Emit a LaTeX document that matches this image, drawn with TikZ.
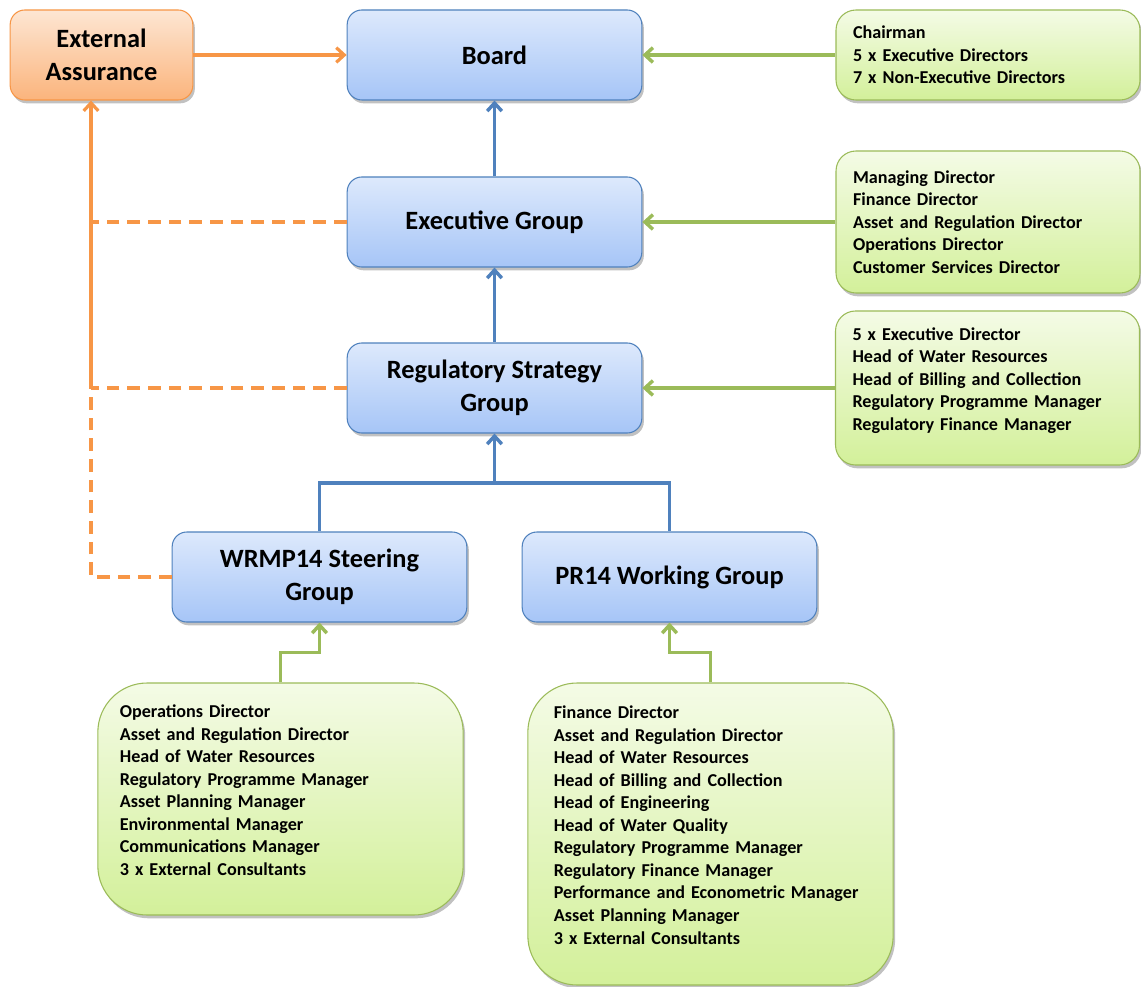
\documentclass[tikz,border=0pt]{standalone}
\usepackage{fontspec}
\setmainfont{Carlito}
\usepackage{tikz}
\usetikzlibrary{arrows.meta,shadows,calc}
\definecolor{boxblue}{HTML}{4F81BD}
\definecolor{bluetop}{HTML}{DDE9FC}
\definecolor{bluebot}{HTML}{A6C5F7}
\definecolor{boxgreen}{HTML}{9BBB59}
\definecolor{greentop}{HTML}{F4FBE6}
\definecolor{greenbot}{HTML}{D3F09A}
\definecolor{boxorange}{HTML}{F79646}
\definecolor{orangetop}{HTML}{FDE6D3}
\definecolor{orangebot}{HTML}{FBB47C}
\newcommand{\tailgap}{\rule[-13.5pt]{0pt}{13.5pt}} % lifts a list a little in its box
\tikzset{>={Straight Barb[length=6pt,width=11pt]}}
\tikzstyle{boxshadow}=[drop shadow={shadow xshift=1.5pt,shadow yshift=-2.5pt,opacity=0.35,fill=black!70}]
\tikzstyle{groupbox}=[draw=boxblue,thick,rounded corners=11pt,top color=bluetop,bottom color=bluebot,boxshadow,
	minimum width=221pt,minimum height=67.5pt,align=center,font=\fontsize{19.8}{24.75}\selectfont\bfseries]
\tikzstyle{assurebox}=[groupbox,draw=boxorange,top color=orangetop,bottom color=orangebot,minimum width=137pt]
\tikzstyle{teambox}=[draw=boxgreen,thick,rounded corners=15pt,top color=greentop,bottom color=greenbot,boxshadow,
	align=left,inner xsep=12.75pt,text width=202.5pt,font=\fontsize{13.6}{16.9}\selectfont\bfseries]
\tikzstyle{bigteam}=[teambox,rounded corners=37pt,inner xsep=18pt,text width=238pt]
\tikzstyle{blueline}=[boxblue,line width=2.6pt]
\tikzstyle{greenline}=[boxgreen,line width=2.6pt]
\tikzstyle{orangeline}=[boxorange,line width=2.4pt]
\tikzstyle{orangedash}=[orangeline,dash pattern=on 9.5pt off 6pt]

\begin{document}
\begin{tikzpicture}[x=0.75pt,y=-0.75pt]
	\useasboundingbox (0,0) rectangle (1141,987);
	
	% groups
	\node[groupbox] (board) at (494.5,55) {Board};
	\node[groupbox] (exec) at (494.5,222) {Executive Group};
	\node[groupbox] (rsg) at (494.5,388) {Regulatory Strategy\\Group};
	\node[groupbox] (wrmp) at (319.5,577) {WRMP14 Steering\\Group};
	\node[groupbox] (pr14) at (669.5,577) {PR14 Working Group};
	\node[assurebox] (ext) at (101.5,55) {External\\Assurance};
	
	% members
	\node[teambox,minimum height=67.5pt] (boardteam) at (988,55) {Chairman\\
		5 x Executive Directors\\
		7 x Non-Executive Directors};
	\node[teambox,minimum height=106.5pt] (execteam) at (988,222) {Managing Director\\
		Finance Director\\
		Asset and Regulation Director\\
		Operations Director\\
		Customer Services Director};
	\node[teambox,minimum height=115.5pt] (rsgteam) at (987.5,388) {5 x Executive Director\\
		Head of Water Resources\\
		Head of Billing and Collection\\
		Regulatory Programme Manager\\
		Regulatory Finance Manager\tailgap};
	\node[bigteam,minimum height=174pt,inner xsep=16.5pt,text width=241pt] (wrmpteam) at (280.5,799) {Operations Director\\
		Asset and Regulation Director\\
		Head of Water Resources\\
		Regulatory Programme Manager\\
		Asset Planning Manager\\
		Environmental Manager\\
		Communications Manager\\
		3 x External Consultants\tailgap};
	\node[bigteam,minimum height=226.5pt,inner xsep=19.5pt,text width=235pt] (pr14team) at (710.5,834) {Finance Director\\
		Asset and Regulation Director\\
		Head of Water Resources\\
		Head of Billing and Collection\\
		Head of Engineering\\
		Head of Water Quality\\
		Regulatory Programme Manager\\
		Regulatory Finance Manager\\
		Performance and Econometric Manager\\
		Asset Planning Manager\\
		3 x External Consultants\tailgap};
	
	% reporting lines
	\coordinate (join) at (494.5,483);
	\draw[blueline,->] (exec) -- (board);
	\draw[blueline,->] (rsg) -- (exec);
	\draw[blueline] (wrmp.north) |- (join) -| (pr14.north);
	\draw[blueline,->] (join) -- (rsg.south);
	
	\draw[greenline,->] (boardteam) -- (board);
	\draw[greenline,->] (execteam) -- (exec);
	\draw[greenline,->] (rsgteam) -- (rsg);
	\draw[greenline,->] (wrmpteam.north) -- ++(0,-30) -| (wrmp.south);
	\draw[greenline,->] (pr14team.north) -- ++(0,-30) -| (pr14.south);
	
	% assurance
	\coordinate (tap) at (91,388);
	\draw[orangeline,->] (ext) -- (board);
	\draw[orangeline,->] (tap) -- (tap |- ext.south);
	\draw[orangedash] (exec.west) -- (exec.west -| tap);
	\draw[orangedash] (rsg.west) -- (tap);
	\draw[orangedash] (wrmp.west) -| (tap);

\end{tikzpicture}
\end{document}
